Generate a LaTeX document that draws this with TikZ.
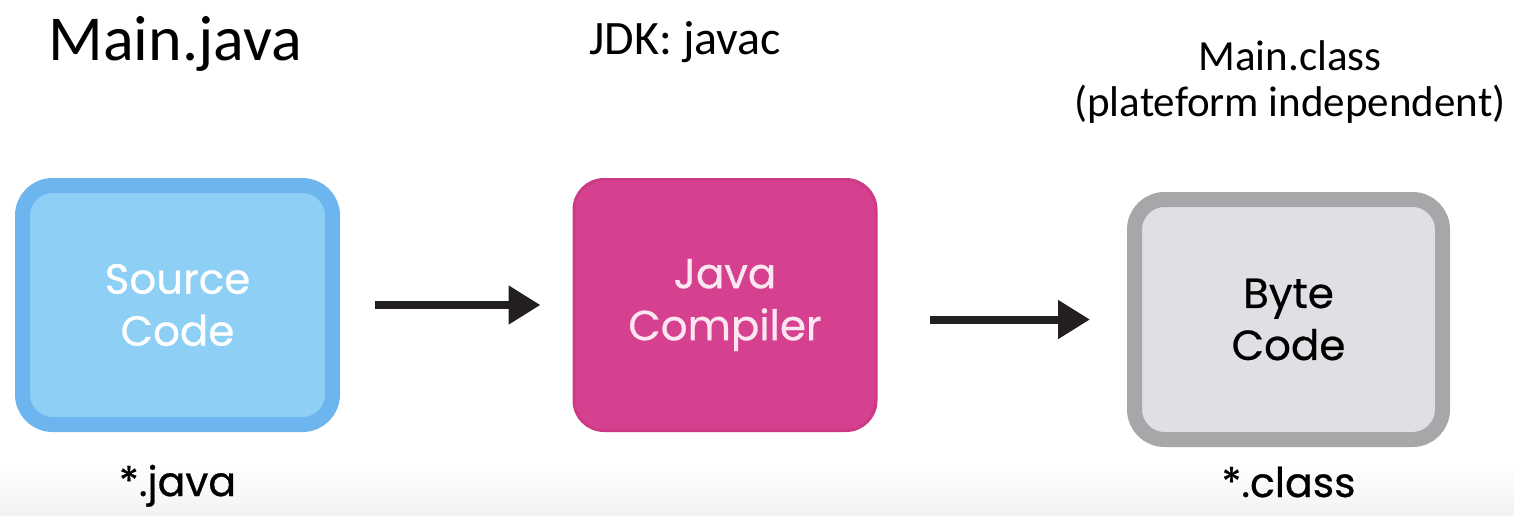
\documentclass[tikz,border=0pt]{standalone}
\usepackage{fontspec}
\setmainfont{Carlito}
\newfontfamily\popfont[FakeBold=0.6]{Poppins}
\usetikzlibrary{arrows.meta,positioning}
\definecolor{srcline}{HTML}{6DB5EE}
\definecolor{srcfill}{HTML}{8ED0F5}
\definecolor{compline}{HTML}{CC3A86}
\definecolor{compfill}{HTML}{D6418F}
\definecolor{compText}{HTML}{FCE6F1}
\definecolor{byteline}{HTML}{A7A7A9}
\definecolor{bytefill}{HTML}{E0E0E4}
\definecolor{arrowc}{HTML}{231F20}
\begin{document}
\begin{tikzpicture}[x=1pt,y=-1pt,>={Triangle[length=32pt,width=37pt]},
  box/.style={rounded corners=30pt,align=center,font=\popfont\fontsize{42}{52}\selectfont},
  flow/.style={->,draw=arrowc,fill=arrowc,line width=8pt},
  ext/.style={anchor=base,font=\popfont\fontsize{41}{46}\selectfont}]
\useasboundingbox (0,0) rectangle (1514,515);
\shade[top color=white,bottom color=black!5] (0,465) rectangle (1514,515);
\node[box,draw=srcline,fill=srcfill,line width=15pt,text=white,minimum width=310pt,minimum height=239pt] (src) at (177.5,305) {Source\\Code};
\node[box,draw=compline,fill=compfill,line width=3pt,text=compText,minimum width=302pt,minimum height=251pt] (comp) at (725,305) {Java\\Compiler};
\node[box,draw=byteline,fill=bytefill,line width=15pt,text=black,minimum width=308pt,minimum height=240pt] (byte) at (1288.5,319.5) {Byte\\Code};
\draw[flow] ([xshift=35pt]src.east)--([xshift=-32pt]comp.west);
\draw[flow] ([xshift=52pt]comp.east |- byte.west)--([xshift=-37pt]byte.west);
\node[anchor=base west,font=\fontsize{64}{72}\selectfont] (mainjava) at (45,60) {Main.java};
\node[anchor=base west,font=\fontsize{48}{56}\selectfont] (jdk) at (586,54) {JDK: javac};
\node[anchor=base,font=\fontsize{43}{50}\selectfont] (mainclass) at (1290,70) {Main.class};
\node[anchor=base,font=\fontsize{43}{50}\selectfont] (indep) at ([yshift=-46pt]mainclass.base) {(plateform independent)};
\node[ext] (javaext) at ([yshift=-64pt]src.south) {*.java};
\node[ext] (classext) at ([yshift=-50pt]byte.south) {*.class};
\end{tikzpicture}
\end{document}
